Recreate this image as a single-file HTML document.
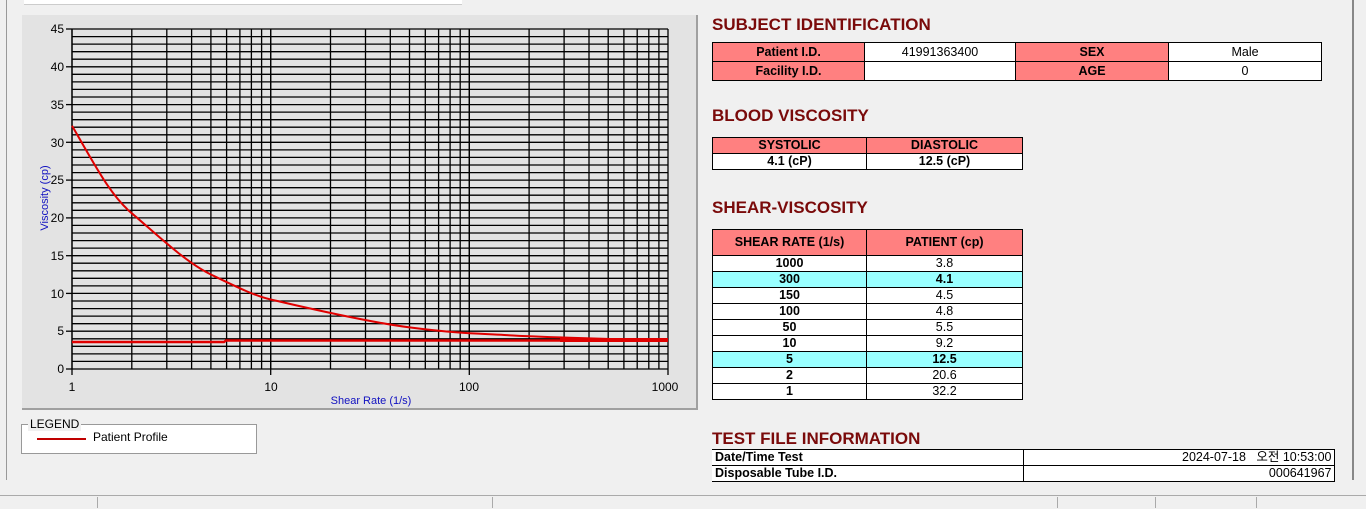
<!DOCTYPE html>
<html><head><meta charset="utf-8"><style>
body{margin:0;width:1366px;height:508px;background:#f0f0f0;font-family:"Liberation Sans",sans-serif;position:relative;overflow:hidden}
.abs{position:absolute}
h2{position:absolute;margin:0;font:bold 17px "Liberation Sans",sans-serif;color:#7a0a0a;left:712px}
table{position:absolute;border-collapse:collapse;font-size:12.5px;table-layout:fixed}
td{border:1px solid #000;padding:0;text-align:center;height:15px;line-height:13px;background:#fff;overflow:hidden}
td.h{background:#ff8080;font-weight:bold}
tr.c td{background:#99ffff;font-weight:bold}
.b{font-weight:bold}
</style></head><body>
<div class="abs" style="left:24px;top:0;width:438px;height:4px;background:#fff;border-bottom:1px solid #ccc"></div>
<div class="abs" style="left:6px;top:0;width:1px;height:480px;background:#999"></div>
<div class="abs" style="left:22px;top:15px;width:674px;height:393px;background:#e3e3e3;border-right:2px solid #a0a0a0;border-bottom:2px solid #a0a0a0"></div>
<svg class="abs" style="left:0;top:0" width="700" height="410">
<g stroke="#000" stroke-width="1.3" id="g"></g>
<g font-size="12" fill="#000" font-family="Liberation Sans" text-anchor="end">
<text x="64" y="33">45</text><text x="64" y="71">40</text><text x="64" y="109">35</text><text x="64" y="147">30</text><text x="64" y="184">25</text><text x="64" y="222">20</text><text x="64" y="260">15</text><text x="64" y="298">10</text><text x="64" y="335">5</text><text x="64" y="373">0</text>
</g>
<g font-size="12" text-anchor="middle"><text x="72" y="391">1</text><text x="271" y="391">10</text><text x="469" y="391">100</text><text x="665" y="391">1000</text></g>
<text x="371" y="404" font-size="11" fill="#1010c0" text-anchor="middle">Shear Rate (1/s)</text>
<text transform="translate(48,198) rotate(-90)" font-size="11" fill="#1010c0" text-anchor="middle">Viscosity (cp)</text>
<path d="M72,342 L224,342 L226,340.5 L668,340.5" stroke="#e00000" stroke-width="2.5" fill="none"/>
<path d="M560,340 L668,340" stroke="#e00000" stroke-width="4" fill="none"/>
<path d="M72,125.7 C95,165 110,195 131.8,213.3 S185,262 210.9,274.5 S255,296 270.7,299.5 S360,321 409.5,327.4 S480,333.5 504.3,335 S600,339 668,340.3" stroke="#e00000" stroke-width="2" fill="none"/>
</svg>
<script>
var g=document.getElementById('g'),s='';
for(var i=0;i<=45;i++){var y=369-i*340/45;s+='<line x1="72" x2="668" y1="'+y.toFixed(1)+'" y2="'+y.toFixed(1)+'"/>';if(i%5==0)s+='<line x1="66" x2="72" y1="'+y.toFixed(1)+'" y2="'+y.toFixed(1)+'"/>';}
for(var d=0;d<3;d++)for(var k=1;k<=10;k++){var x=72+198.67*(d+Math.log10(k));s+='<line y1="29" y2="369" x1="'+x.toFixed(1)+'" x2="'+x.toFixed(1)+'"/>';}
s+='<line y1="29" y2="369" x1="72" x2="72"/>';
[72,270.7,469.3,668].forEach(function(x){s+='<line y1="369" y2="375" x1="'+x+'" x2="'+x+'"/>';});
g.innerHTML=s;
</script>
<div class="abs" style="left:21px;top:424px;width:234px;height:28px;background:#fff;border:1px solid #999"></div>
<div class="abs" style="left:28px;top:417px;font-size:12px;background:#f0f0f0;padding:0 2px">LEGEND</div>
<div class="abs" style="left:37px;top:438px;width:49px;height:2px;background:#c00000"></div>
<div class="abs" style="left:93px;top:430px;font-size:12px">Patient Profile</div>

<h2 style="top:15px">SUBJECT IDENTIFICATION</h2>
<table style="left:712px;top:42px;width:609px"><col width="152"><col width="151"><col width="153"><col width="153">
<tr><td class="h" style="height:18px">Patient I.D.</td><td>41991363400</td><td class="h">SEX</td><td>Male</td></tr>
<tr><td class="h" style="height:18px">Facility I.D.</td><td></td><td class="h">AGE</td><td>0</td></tr></table>
<h2 style="top:106px">BLOOD VISCOSITY</h2>
<table style="left:712px;top:137px;width:310px"><col width="154"><col width="156">
<tr><td class="h">SYSTOLIC</td><td class="h">DIASTOLIC</td></tr>
<tr><td class="b">4.1 (cP)</td><td class="b">12.5 (cP)</td></tr></table>
<h2 style="top:198px">SHEAR-VISCOSITY</h2>
<table style="left:712px;top:229px;width:310px"><col width="154"><col width="156">
<tr><td class="h" style="height:25px">SHEAR RATE (1/s)</td><td class="h">PATIENT (cp)</td></tr>
<tr><td class="b">1000</td><td>3.8</td></tr>
<tr class="c"><td>300</td><td>4.1</td></tr>
<tr><td class="b">150</td><td>4.5</td></tr>
<tr><td class="b">100</td><td>4.8</td></tr>
<tr><td class="b">50</td><td>5.5</td></tr>
<tr><td class="b">10</td><td>9.2</td></tr>
<tr class="c"><td>5</td><td>12.5</td></tr>
<tr><td class="b">2</td><td>20.6</td></tr>
<tr><td class="b">1</td><td>32.2</td></tr></table>
<h2 style="top:429px">TEST FILE INFORMATION</h2>
<table style="left:712px;top:449px;width:622px;font-family:'Liberation Sans','Noto Sans CJK KR',sans-serif"><col width="311"><col width="311">
<tr><td class="b" style="text-align:left;padding-left:3px;border-left:none">Date/Time Test</td><td style="text-align:right;padding-right:2px">2024-07-18 &nbsp; 오전 10:53:00</td></tr>
<tr><td class="b" style="text-align:left;padding-left:3px;border-left:none">Disposable Tube I.D.</td><td style="text-align:right;padding-right:2px">000641967</td></tr></table>
<div class="abs" style="left:1352px;top:0;width:2px;height:480px;background:#888"></div>
<div class="abs" style="left:0;top:495px;width:1366px;height:13px;background:#f0f0f0;border-top:1px solid #aaa"></div>
<div class="abs" style="left:97px;top:497px;width:1px;height:11px;background:#aaa"></div>
<div class="abs" style="left:492px;top:497px;width:1px;height:11px;background:#aaa"></div>
<div class="abs" style="left:1057px;top:497px;width:1px;height:11px;background:#aaa"></div>
<div class="abs" style="left:1155px;top:497px;width:1px;height:11px;background:#aaa"></div>
<div class="abs" style="left:1256px;top:497px;width:1px;height:11px;background:#aaa"></div>
</body></html>
